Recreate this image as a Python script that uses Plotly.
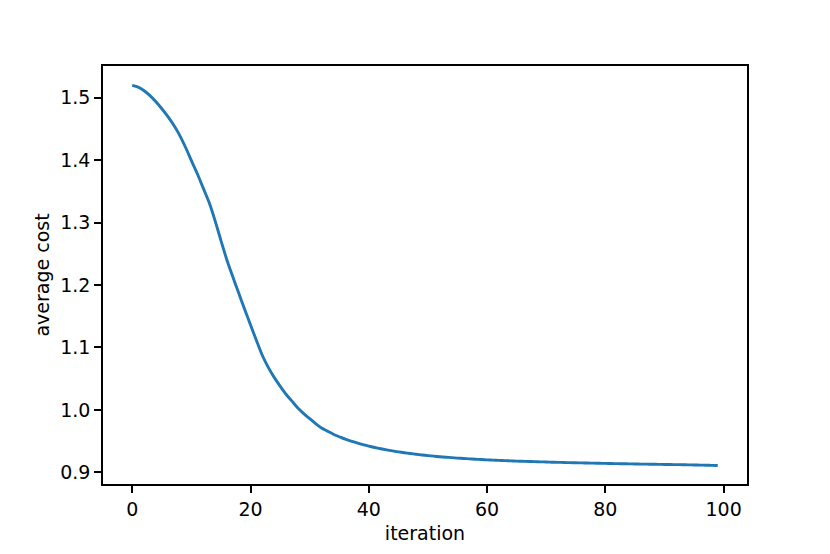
import plotly.graph_objects as go

iterations = list(range(100))
avg_cost = [
    1.5197, 1.5168, 1.5110, 1.5032, 1.4933, 1.4822, 1.4698, 1.4560, 1.4400, 1.4205,
    1.399, 1.378, 1.355, 1.332, 1.303, 1.271, 1.240, 1.213, 1.187, 1.161,
    1.136, 1.111, 1.087, 1.068, 1.052, 1.038, 1.025, 1.014, 1.003, 0.994,
    0.986, 0.978, 0.971, 0.966, 0.961, 0.957, 0.953, 0.950, 0.947, 0.9445,
    0.9420, 0.9398, 0.9378, 0.9360, 0.9343, 0.9328, 0.9314, 0.9301, 0.9289, 0.9278,
    0.9268, 0.9259, 0.9250, 0.9242, 0.9235, 0.9228, 0.9222, 0.9216, 0.9210, 0.9205,
    0.9200, 0.9196, 0.9192, 0.9188, 0.9184, 0.9180, 0.9177, 0.9174, 0.9171, 0.9168,
    0.9165, 0.9162, 0.9160, 0.9157, 0.9155, 0.9153, 0.9151, 0.9149, 0.9147, 0.9145,
    0.9143, 0.9141, 0.9139, 0.9137, 0.9136, 0.9134, 0.9132, 0.9131, 0.9129, 0.9128,
    0.9126, 0.9125, 0.9123, 0.9122, 0.9120, 0.9118, 0.9116, 0.9114, 0.9112, 0.9110,
]
x_ticks = [0, 20, 40, 60, 80, 100]
y_ticks = [0.9, 1.0, 1.1, 1.2, 1.3, 1.4, 1.5]
y_tick_labels = ["0.9", "1.0", "1.1", "1.2", "1.3", "1.4", "1.5"]

fig = go.Figure(go.Scatter(
    x=iterations, y=avg_cost, mode="lines",
    line=dict(color="#1f77b4", width=2.9, shape="spline", smoothing=0.8),
    showlegend=False, hoverinfo="skip",
))

FONT = dict(family="DejaVu Sans", size=19, color="black")

axis_common = dict(
    showline=True, linecolor="black", linewidth=1.5, mirror=True,
    ticks="outside", ticklen=7, tickwidth=1.5, tickcolor="black",
    showgrid=False, zeroline=False,
    tickfont=FONT,
)

fig.update_layout(
    width=822, height=546,
    margin=dict(l=95, r=83, t=58, b=70),
    paper_bgcolor="white", plot_bgcolor="white",
    font=FONT,
    xaxis=dict(range=[-4.95, 103.95], tickvals=x_ticks,
               title=dict(text="iteration", standoff=8, font=FONT),
               **axis_common),
    yaxis=dict(range=[0.8813, 1.5506], tickvals=y_ticks, ticktext=y_tick_labels,
               title=dict(text="average cost", standoff=6, font=FONT),
               **axis_common),
)

fig.write_html("out.html")
